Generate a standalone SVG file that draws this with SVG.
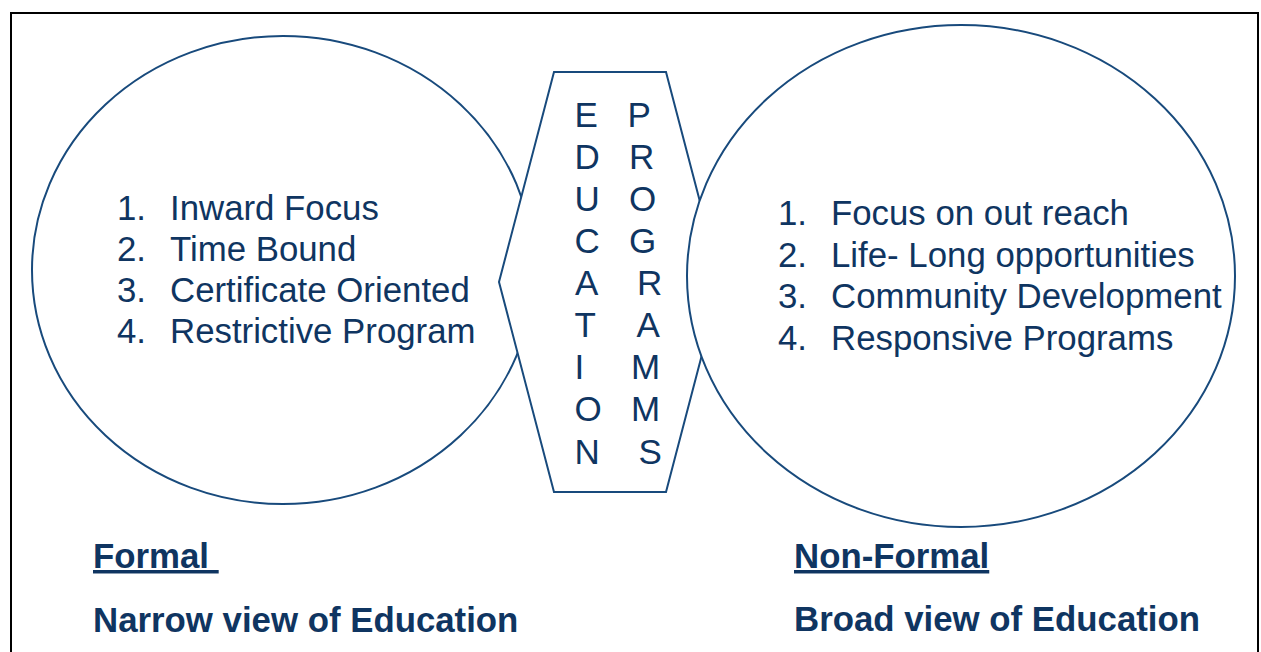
<svg xmlns="http://www.w3.org/2000/svg" width="1261" height="652" viewBox="0 0 1261 652">
<style>
.shape{fill:#fff;stroke:#184a7c;stroke-width:2}
.t{font-family:"Liberation Sans",Arial,sans-serif;fill:#0f3561}
.list{font-size:34.8px}
.letter{font-size:35px}
.b{font-size:34.8px;font-weight:bold}
.u{text-decoration:underline}
</style>
<rect x="11" y="13" width="1247" height="660" fill="#fff" stroke="#000" stroke-width="2"/>
<g id="formal">
<ellipse class="shape" cx="283" cy="270" rx="251" ry="234"/>
<text class="t list" y="220"><tspan x="117">1.</tspan><tspan x="170">Inward Focus</tspan></text>
<text class="t list" y="261"><tspan x="117">2.</tspan><tspan x="170">Time Bound</tspan></text>
<text class="t list" y="302"><tspan x="117">3.</tspan><tspan x="170">Certificate Oriented</tspan></text>
<text class="t list" y="343"><tspan x="117">4.</tspan><tspan x="170">Restrictive Program</tspan></text>
</g>
<g id="programs">
<polygon class="shape" points="554,72 666,72 721,282 666,492 554,492 499,282"/>
<g class="t letter">
<text x="574.5" y="126.7">E</text>
<text x="574.5" y="168.8">D</text>
<text x="574.5" y="210.9">U</text>
<text x="574.5" y="253">C</text>
<text x="575" y="295.1">A</text>
<text x="574.5" y="337.2">T</text>
<text x="574.5" y="379.3">I</text>
<text x="574.5" y="421.4">O</text>
<text x="574.5" y="463.5">N</text>
<text x="627.5" y="126.7">P</text>
<text x="629" y="168.8">R</text>
<text x="629" y="210.9">O</text>
<text x="629" y="253">G</text>
<text x="637" y="295.1">R</text>
<text x="636.5" y="337.2">A</text>
<text x="631" y="379.3">M</text>
<text x="631" y="421.4">M</text>
<text x="638.5" y="463.5">S</text>
</g>
</g>
<g id="nonformal">
<ellipse class="shape" cx="961" cy="276" rx="274" ry="251"/>
<text class="t list" y="225"><tspan x="778">1.</tspan><tspan x="831">Focus on out reach</tspan></text>
<text class="t list" y="266.7"><tspan x="778">2.</tspan><tspan x="831">Life- Long opportunities</tspan></text>
<text class="t list" y="308.4"><tspan x="778">3.</tspan><tspan x="831">Community Development</tspan></text>
<text class="t list" y="350"><tspan x="778">4.</tspan><tspan x="831">Responsive Programs</tspan></text>
</g>
<g id="formal-label">
<text class="t b u" x="93" y="568" xml:space="preserve">Formal </text>
<text class="t b" x="93" y="632">Narrow view of Education</text>
</g>
<g id="nonformal-label">
<text class="t b u" x="794" y="568">Non-Formal</text>
<text class="t b" x="794" y="631">Broad view of Education</text>
</g>
<g id="connectors"></g>
</svg>
